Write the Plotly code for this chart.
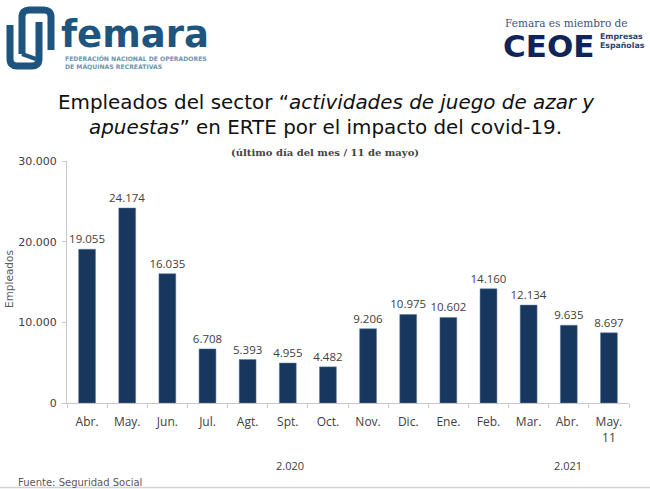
import plotly.graph_objects as go

W, H = 650, 489
categories = ["Abr.", "May.", "Jun.", "Jul.", "Agt.", "Spt.", "Oct.", "Nov.", "Dic.", "Ene.", "Feb.", "Mar.", "Abr. ", "May.<br>11"]
values = [19055, 24174, 16035, 6708, 5393, 4955, 4482, 9206, 10975, 10602, 14160, 12134, 9635, 8697]
labels = ["19.055", "24.174", "16.035", "6.708", "5.393", "4.955", "4.482", "9.206", "10.975", "10.602", "14.160", "12.134", "9.635", "8.697"]
y_ticks = [0, 10000, 20000, 30000]
y_tick_labels = ["0", "10.000", "20.000", "30.000"]

BLUE = "#17375e"
LOGO = "#1d5580"
GREY = "#595959"
SANS = "DejaVu Sans"
CAL = "Open Sans"

fig = go.Figure(go.Bar(
    x=categories, y=values, text=labels, textposition="outside",
    textfont=dict(family=CAL, size=11.5, color="#404040"),
    marker=dict(color=BLUE, line=dict(color="#5f7a9c", width=0.5)),
    cliponaxis=False, width=0.42, constraintext="none",
))


def px(x):
    return x / W


def py(y):
    return 1 - y / H


annotations = []


def note(x, y, text, size, color="#000", family=SANS, anchor="center", angle=0):
    annotations.append(dict(
        x=px(x), y=py(y), xref="paper", yref="paper", text=text, showarrow=False,
        xanchor=anchor, yanchor="middle", textangle=angle,
        font=dict(family=family, size=size, color=color),
    ))


note(326, 102, "Empleados del sector “<i>actividades de juego de azar y</i>", 19.9, "#111")
note(326, 127, "<i>apuestas</i>” en ERTE por el impacto del covid-19.", 19.9, "#111")
note(325, 153, "<b>(último día del mes / 11 de mayo)</b>", 10, "#444", "DejaVu Serif")
note(9, 279, "Empleados", 10.5, GREY, SANS, angle=-90)
note(290, 465, "2.020", 11, "#404040", CAL)
note(568, 465, "2.021", 11, "#404040", CAL)
note(16, 482, "Fuente: Seguridad Social", 10, GREY, SANS, "left")
note(135, 34, "<b>femara</b>", 37, LOGO, "DejaVu Sans")
note(63, 58, "<b>FEDERACIÓN NACIONAL DE OPERADORES</b>", 6.1, "#6f93ae", SANS, "left")
note(63, 66, "<b>DE MÁQUINAS RECREATIVAS</b>", 6.1, "#6f93ae", SANS, "left")
note(566, 23, "Femara es miembro de", 10.5, "#3a5580", "DejaVu Serif")
note(548, 46, "<b>CEOE</b>", 31, "#0f2557", SANS)
note(598, 37, "<b>Empresas</b>", 7.8, "#2a4270", SANS, "left")
note(598, 46, "<b>Españolas</b>", 7.8, "#2a4270", SANS, "left")


def path_shape(d, width):
    return dict(type="path", xref="paper", yref="paper", path=d,
                line=dict(color=LOGO, width=width), fillcolor="rgba(0,0,0,0)")


def fmt(cmds):
    out = []
    for c, pts in cmds:
        out.append(c + " ".join(f"{px(a):.5f},{py(b):.5f}" for a, b in pts))
    return " ".join(out)


strand_a = fmt([("M", [(22, 54)]), ("L", [(22, 17)]), ("C", [(22, 12), (25, 10), (29, 10)]),
                ("L", [(44, 10)]), ("C", [(48, 10), (51, 12), (51, 17)]), ("L", [(51, 50)])])
strand_b = fmt([("M", [(10, 25)]), ("L", [(10, 59)]), ("C", [(10, 64), (13, 66), (17, 66)]),
                ("L", [(32, 66)]), ("C", [(36, 66), (39, 64), (39, 59)]), ("L", [(39, 22)])])
strand_c = fmt([("M", [(22, 54)]), ("L", [(36, 59)])])

shapes = [
    path_shape(strand_a, 7),
    path_shape(strand_b, 7),
    path_shape(strand_c, 4),
    dict(type="line", xref="paper", yref="paper", x0=0, x1=1, y0=py(487.5), y1=py(487.5),
         line=dict(color="#d4d4d4", width=1.5)),
]

fig.update_layout(
    width=W, height=H, autosize=False,
    margin=dict(l=0, r=0, t=0, b=0),
    paper_bgcolor="white", plot_bgcolor="white",
    showlegend=False,
    annotations=annotations, shapes=shapes,
    xaxis=dict(
        automargin=False,
        domain=[px(67), px(629)], type="category", categoryorder="array", categoryarray=categories,
        showline=True, linecolor="#c8c8c8", linewidth=1,
        ticks="outside", ticklen=4, tickcolor="#c8c8c8", tickson="boundaries",
        ticklabelstandoff=8,
        tickfont=dict(family=CAL, size=12, color="#404040"), showgrid=False, zeroline=False,
    ),
    yaxis=dict(
        automargin=False,
        domain=[py(403), py(161)], range=[0, 30000], tickvals=y_ticks, ticktext=y_tick_labels,
        showline=True, linecolor="#c8c8c8", linewidth=1,
        ticks="outside", ticklen=4, tickcolor="#c8c8c8", ticklabelstandoff=3,
        tickfont=dict(family=SANS, size=11, color="#404040"), showgrid=False, zeroline=False,
    ),
)

fig.write_html("out.html", config=dict(displayModeBar=False),
               post_script="document.body.style.margin='0';")
